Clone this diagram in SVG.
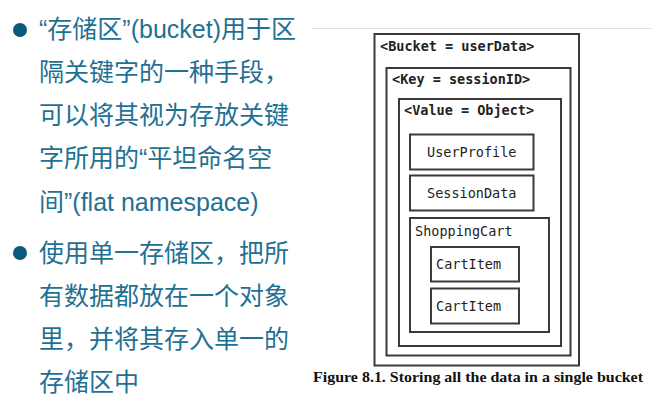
<svg xmlns="http://www.w3.org/2000/svg" width="652" height="406" viewBox="0 0 652 406">
<style>
.cn{font-family:"Liberation Sans","Noto Sans CJK SC",sans-serif;font-size:25px;fill:#1f7193}
.bul{fill:#0b5a78}
.box{fill:none;stroke:#3a3a3a;stroke-width:2}
.lbl{font-family:"DejaVu Sans Mono",monospace;font-size:13.5px;fill:#222}
.b{font-weight:bold}
.cap{font-family:"Liberation Serif",serif;font-weight:bold;font-size:15.5px;fill:#111}
</style>
<rect width="652" height="406" fill="#fff"/>
<line x1="312" y1="28.5" x2="652" y2="28.5" stroke="#e2e2e2" stroke-width="1"/>
<g id="bullets">
<circle class="bul" cx="20" cy="30" r="7"/>
<circle class="bul" cx="20" cy="253" r="7"/>
<text class="cn" x="39" y="38">“存储区”(bucket)用于区</text>
<text class="cn" x="39" y="81">隔关键字的一种手段，</text>
<text class="cn" x="39" y="124">可以将其视为存放关键</text>
<text class="cn" x="39" y="167">字所用的“平坦命名空</text>
<text class="cn" x="39" y="211">间”(flat namespace)</text>
<text class="cn" x="39" y="262">使用单一存储区，把所</text>
<text class="cn" x="39" y="305">有数据都放在一个对象</text>
<text class="cn" x="39" y="348">里，并将其存入单一的</text>
<text class="cn" x="39" y="391">存储区中</text>
</g>
<g id="connectors"></g>
<g id="bucket">
<rect class="box" x="374.5" y="34" width="204.5" height="331.5"/>
<text class="lbl b" x="380" y="51">&lt;Bucket = userData&gt;</text>
</g>
<g id="key">
<rect class="box" x="386.5" y="68" width="184" height="287.5"/>
<text class="lbl b" x="392" y="84">&lt;Key = sessionID&gt;</text>
</g>
<g id="value">
<rect class="box" x="399" y="99" width="162" height="247"/>
<text class="lbl b" x="404" y="115">&lt;Value = Object&gt;</text>
</g>
<g id="userprofile">
<rect class="box" x="410" y="134.5" width="123.5" height="35"/>
<text class="lbl" x="471.8" y="157" text-anchor="middle">UserProfile</text>
</g>
<g id="sessiondata">
<rect class="box" x="410" y="175.5" width="123.5" height="35"/>
<text class="lbl" x="471.8" y="198" text-anchor="middle">SessionData</text>
</g>
<g id="shoppingcart">
<rect class="box" x="410" y="218" width="139" height="114"/>
<text class="lbl" x="415" y="236">ShoppingCart</text>
</g>
<g id="cartitem1">
<rect class="box" x="431" y="247" width="88" height="34.5"/>
<text class="lbl" x="436" y="269">CartItem</text>
</g>
<g id="cartitem2">
<rect class="box" x="431" y="288.5" width="88" height="35"/>
<text class="lbl" x="436" y="311">CartItem</text>
</g>
<text class="cap" x="313" y="382" textLength="330" lengthAdjust="spacingAndGlyphs">Figure 8.1. Storing all the data in a single bucket</text>
</svg>
